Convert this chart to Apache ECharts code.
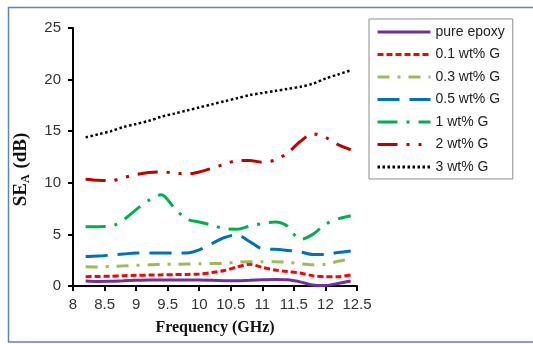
<!DOCTYPE html>
<html>
<head>
<meta charset="utf-8">
<script src="https://cdn.jsdelivr.net/npm/echarts@6/dist/echarts.min.js"></script>
<style>
  html, body { margin: 0; padding: 0; background: #fff; }
  #main { width: 533px; height: 344px; }
</style>
</head>
<body>
<div id="main"></div>
<script type="text/javascript">
// frequency points (GHz)
var freq = [8.2, 8.4, 8.6, 8.8, 9.0, 9.2, 9.4, 9.6, 9.8, 10.0, 10.2, 10.4, 10.6, 10.8, 11.0, 11.2, 11.4, 11.6, 11.8, 12.0, 12.2, 12.4];

// SE_A values (dB)
var pureEpoxy = [0.48, 0.44, 0.45, 0.5, 0.55, 0.58, 0.58, 0.58, 0.58, 0.58, 0.55, 0.52, 0.5, 0.55, 0.6, 0.63, 0.6, 0.4, 0.1, 0.05, 0.25, 0.48];
var g01 = [0.9, 0.92, 0.95, 1.0, 1.03, 1.06, 1.08, 1.1, 1.12, 1.16, 1.3, 1.5, 1.85, 2.1, 1.8, 1.55, 1.4, 1.25, 1.0, 0.9, 0.9, 1.07];
var g03 = [1.87, 1.85, 1.9, 1.95, 2.0, 2.05, 2.1, 2.1, 2.13, 2.15, 2.18, 2.2, 2.3, 2.35, 2.35, 2.35, 2.3, 2.15, 2.05, 2.1, 2.4, 2.6];
var g05 = [2.85, 2.9, 3.0, 3.1, 3.2, 3.2, 3.2, 3.2, 3.2, 3.5, 4.1, 4.7, 4.95, 4.3, 3.6, 3.55, 3.45, 3.3, 3.05, 3.05, 3.25, 3.4];
var g1 = [5.75, 5.75, 5.8, 6.4, 7.4, 8.3, 8.85, 7.6, 6.5, 6.2, 5.9, 5.55, 5.5, 5.8, 6.05, 6.2, 5.8, 4.5, 5.0, 6.0, 6.5, 6.8];
var g2 = [10.35, 10.25, 10.2, 10.5, 10.8, 11.0, 11.05, 10.95, 10.85, 11.05, 11.4, 11.8, 12.15, 12.15, 12.0, 12.2, 12.9, 14.0, 14.75, 14.4, 13.7, 13.2];
var g3 = [14.4, 14.7, 15.0, 15.4, 15.7, 16.0, 16.4, 16.7, 17.0, 17.3, 17.6, 17.9, 18.2, 18.5, 18.7, 18.9, 19.1, 19.3, 19.6, 20.1, 20.5, 20.9];

var names = ['pure epoxy', '0.1 wt% G', '0.3 wt% G', '0.5 wt% G', '1 wt% G', '2 wt% G', '3 wt% G'];
var yTicks = [0, 5, 10, 15, 20, 25];

var values = [pureEpoxy, g01, g03, g05, g1, g2, g3];
var colors = ['#7030A0', '#FF0000', '#9BBB59', '#0070C0', '#00B050', '#C00000', '#000000'];
var dashes = ['solid', [6, 3], [12, 8, 3, 8], [22, 10], [20, 9, 3, 9], [20, 9, 3, 9, 3, 9], [2.5, 2.5]];
var widths = [3, 3, 3, 3, 3, 3, 2.5];

function pairs(ys) {
  return ys.map(function (y, i) { return [freq[i], y]; });
}

var myChart = echarts.init(document.getElementById('main'));

var series = names.map(function (n, k) {
  return {
    name: n,
    type: 'line',
    smooth: 0.3,
    symbol: 'none',
    data: pairs(values[k]),
    lineStyle: { color: colors[k], width: widths[k], type: dashes[k], cap: 'butt' },
    itemStyle: { color: colors[k] }
  };
});

var option = {
  animation: false,
  backgroundColor: '#fff',
  graphic: [{
    type: 'rect',
    shape: { x: 8.5, y: 7.5, width: 540, height: 334.5 },
    style: { fill: 'none', stroke: '#5B83C4', lineWidth: 1.5 },
    silent: true
  }],
  grid: { left: 73, top: 28, right: 176, bottom: 58 },
  legend: {
    orient: 'vertical',
    left: 369,
    top: 19,
    width: 148,
    padding: [6, 8, 5, 7],
    borderColor: '#8c8c8c',
    borderWidth: 1,
    itemWidth: 53,
    itemHeight: 12,
    itemGap: 8.5,
    itemStyle: { opacity: 0 },
    lineStyle: { width: 3 },
    data: names,
    textStyle: { fontFamily: 'Liberation Sans', fontSize: 14, color: '#222', padding: [0, 0, 0, 0] }
  },
  xAxis: {
    type: 'value',
    min: 8,
    max: 12.5,
    interval: 0.5,
    name: 'Frequency (GHz)',
    nameLocation: 'middle',
    nameGap: 34,
    nameTextStyle: { fontFamily: 'Liberation Serif', fontWeight: 'bold', fontSize: 16, color: '#111' },
    splitLine: { show: false },
    axisLine: { lineStyle: { color: '#000', width: 2 } },
    axisTick: { lineStyle: { color: '#000', width: 2 }, length: 5 },
    axisLabel: { fontFamily: 'Liberation Sans', fontSize: 15, color: '#333', margin: 11 }
  },
  yAxis: {
    type: 'value',
    min: 0,
    max: 25,
    interval: 5,
    name: 'SE{sub|A} (dB)',
    nameLocation: 'middle',
    nameGap: 41,
    nameTextStyle: {
      fontFamily: 'Liberation Serif', fontWeight: 'bold', fontSize: 19, color: '#111',
      padding: [0, 25, 0, 0],
      rich: { sub: { fontFamily: 'Liberation Serif', fontWeight: 'bold', fontSize: 12, color: '#111', verticalAlign: 'bottom', padding: [9, 1, 0, 0] } }
    },
    splitLine: { show: false },
    axisLine: { show: true, lineStyle: { color: '#000', width: 2 } },
    axisTick: { show: true, lineStyle: { color: '#000', width: 2 }, length: 5 },
    axisLabel: {
      fontFamily: 'Liberation Sans', fontSize: 15, color: '#333', margin: 12,
      formatter: function (v) { return yTicks.indexOf(v) >= 0 ? String(v) : ''; }
    }
  },
  series: series
};

myChart.setOption(option);
</script>
</body>
</html>
